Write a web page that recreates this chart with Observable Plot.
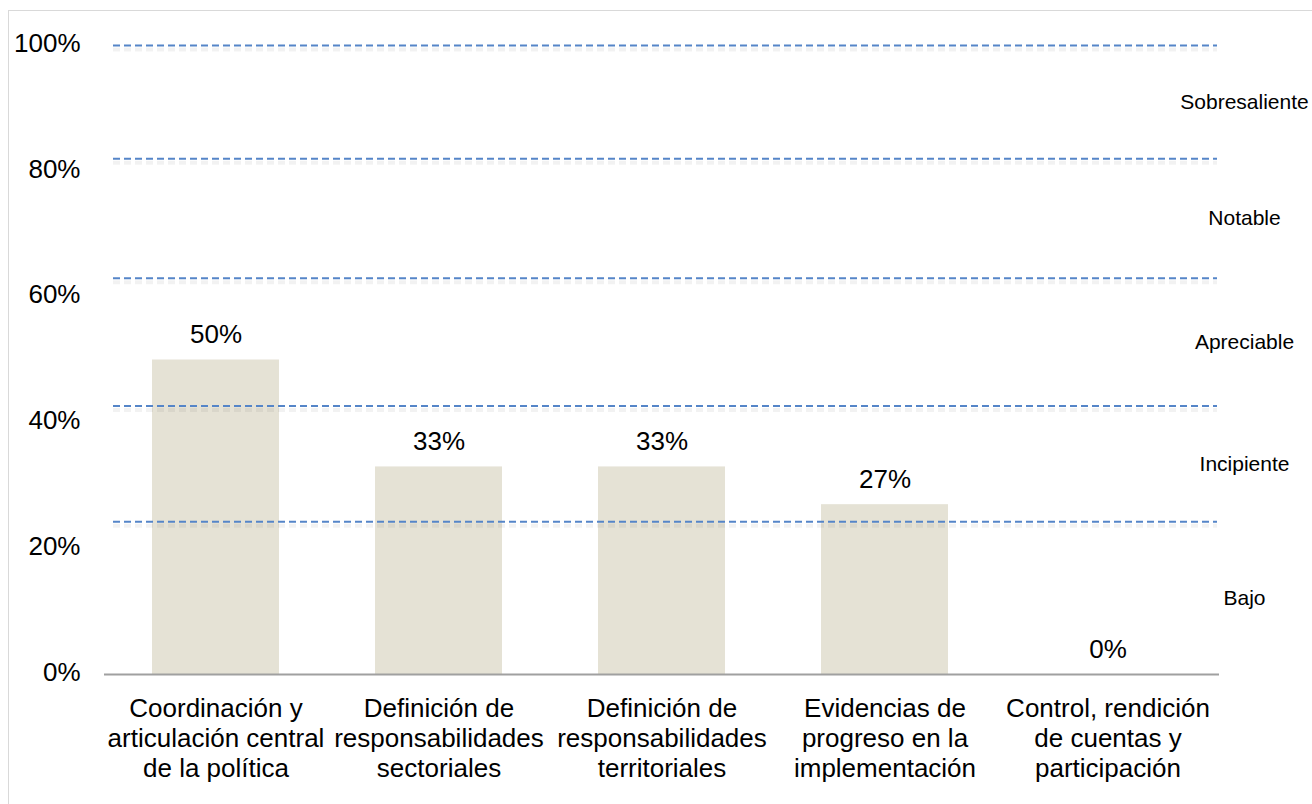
<!DOCTYPE html>
<html>
<head>
<meta charset="utf-8">
<script src="https://cdn.jsdelivr.net/npm/d3@7"></script>
<script src="https://cdn.jsdelivr.net/npm/@observablehq/plot@0.6"></script>
<style>
  html, body { margin: 0; padding: 0; background: #fff; }
  #wrap { position: relative; width: 1312px; height: 804px; overflow: hidden; }
  #frame { position: absolute; left: 8px; top: 10px; width: 1400px; height: 900px;
           border-left: 1.5px solid #d9d9d9; border-top: 1.5px solid #d9d9d9; pointer-events: none; }
  svg { font-family: "Liberation Sans", Arial, sans-serif; }
</style>
</head>
<body>
<div id="wrap"><div id="frame"></div></div>
<script>
const categories = [
  "Coordinación y\narticulación central\nde la política",
  "Definición de\nresponsabilidades\nsectoriales",
  "Definición de\nresponsabilidades\nterritoriales",
  "Evidencias de\nprogreso en la\nimplementación",
  "Control, rendición\nde cuentas y\nparticipación"
];
const values = [0.50, 0.33, 0.33, 0.27, 0.00];
const valueLabels = ["50%", "33%", "33%", "27%", "0%"];
const yTicks = [0, 0.2, 0.4, 0.6, 0.8, 1.0];
const thresholds = [0.243, 0.427, 0.63, 0.82, 1.0];
const levelNames = ["Bajo", "Incipiente", "Apreciable", "Notable", "Sobresaliente"];

const bars = categories.map((c, i) => ({cat: c, value: values[i], label: valueLabels[i]}));
const bounds = [0, ...thresholds];
const levels = levelNames.map((name, i) => ({name, y: (bounds[i] + bounds[i + 1]) / 2}));

const dash = "7,4";
const chart = Plot.plot({
  width: 1312,
  height: 804,
  marginLeft: 104,
  marginRight: 93,
  marginTop: 45,
  marginBottom: 130,
  style: {fontFamily: "'Liberation Sans', Arial, sans-serif", background: "transparent", color: "#000"},
  x: {domain: categories, paddingInner: 0.43, paddingOuter: 0.215, label: null},
  y: {domain: [0, 1], label: null},
  marks: [
    Plot.barY(bars, {x: "cat", y: "value", fill: "#e5e2d5"}),
    // soft shadow of the dashed level lines
    Plot.ruleY(thresholds, {stroke: "#000", strokeOpacity: 0.05, strokeWidth: 4, strokeDasharray: dash, dy: 4, insetLeft: 9, insetRight: 2}),
    Plot.ruleY(thresholds, {stroke: "#5585c8", strokeWidth: 2, strokeDasharray: dash, insetLeft: 9, insetRight: 2}),
    Plot.ruleY([0], {stroke: "#a0a0a0", strokeWidth: 2}),
    Plot.text(bars, {x: "cat", y: "value", text: "label", lineAnchor: "bottom", dy: -17, fontSize: 26, fill: "#000"}),
    Plot.text(levels, {y: "y", text: "name", frameAnchor: "right", dx: 25, textAnchor: "middle", fontSize: 21, fill: "#000"}),
    Plot.axisY(yTicks, {tickSize: 0, tickPadding: 24, dy: -2, tickFormat: d => Math.round(d * 100) + "%", fontSize: 26, fill: "#000", label: null}),
    Plot.axisX({tickSize: 0, tickPadding: 21, fontSize: 26, lineHeight: 1.16, fill: "#000", label: null, tickFormat: d => d})
  ]
});
document.getElementById("wrap").insertBefore(chart, document.getElementById("frame"));
</script>
</body>
</html>
